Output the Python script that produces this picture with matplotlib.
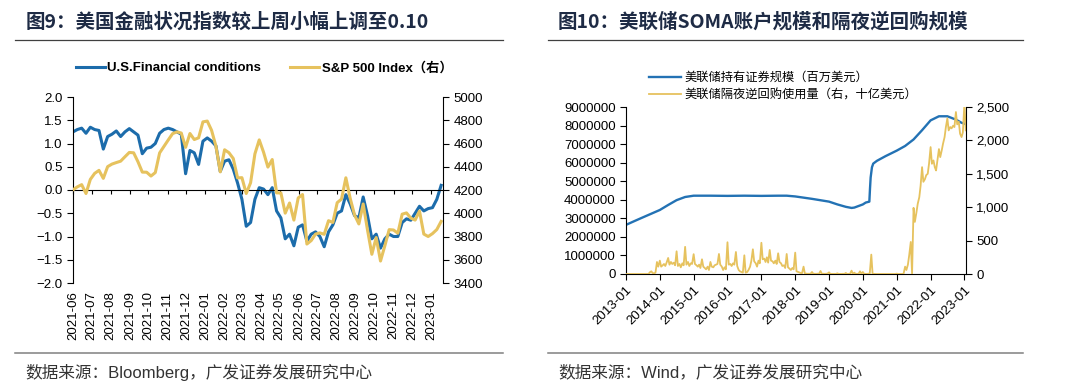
import numpy as np
import pandas as pd
import matplotlib
matplotlib.use("Agg")
import matplotlib.pyplot as plt
import matplotlib.dates as mdates
from matplotlib.lines import Line2D
from matplotlib.ticker import StrMethodFormatter

plt.rcParams["font.family"] = ["Liberation Sans", "Noto Sans CJK SC"]

#### Left chart data: weekly (Tuesdays) ####
fci_start = "2021-06-01"
fci = [1.25, 1.30, 1.33, 1.22, 1.35, 1.30, 1.28, 0.88, 1.15, 1.20, 1.27, 1.15, 1.25, 1.32,
       1.25, 1.18, 0.78, 0.90, 0.92, 1.00, 1.22, 1.30, 1.33, 1.30, 1.25, 1.20, 0.35, 0.85,
       0.80, 0.55, 1.05,
       1.12, 1.05, 0.95, 0.40, 0.62, 0.65, 0.45, 0.15, -0.20, -0.78, -0.70, -0.20, 0.05,
       0.02, -0.10, 0.05, -0.45, -0.60, -1.05, -0.95, -1.20, -0.80, -0.75, -1.10, -0.95,
       -0.90, -1.00, -1.22, -0.90, -0.75, -0.50, -0.45, -0.10, -0.30, -0.55, -0.60, -0.15,
       -0.55, -1.05, -0.95, -1.25, -1.05, -0.95, -1.00, -1.00, -0.70, -0.62, -0.65, -0.50,
       -0.35, -0.45, -0.40,
       -0.38, -0.20, 0.10]
spx = [4202, 4227, 4246, 4170, 4291, 4343, 4369, 4300, 4401, 4423, 4436, 4448, 4486, 4523,
       4520, 4443, 4354, 4353, 4320, 4350, 4519, 4575, 4631, 4685, 4700, 4690, 4567, 4686,
       4634, 4649, 4786,
       4793, 4713, 4577, 4356, 4546, 4521, 4471, 4304, 4306, 4170, 4262, 4511, 4631,
       4525, 4397, 4462, 4175, 4175, 4001, 4088, 3941, 4132, 4161, 3735, 3765,
       3821, 3831, 3819, 3936, 3921, 4091, 4122, 4305, 4128, 3986, 3908, 4080,
       3856, 3647, 3791, 3589, 3720, 3859, 3856, 3828, 3992, 4003, 3958, 3941,
       4019, 3821, 3800,
       3825, 3860, 3930]
week_dates = pd.date_range(fci_start, periods=len(fci), freq="7D")

#### Right chart data ####
soma_dates = pd.to_datetime([
    "2013-01-02", "2013-04-01", "2013-07-01", "2013-10-01", "2014-01-01", "2014-04-01",
    "2014-07-01", "2014-10-01", "2015-01-01", "2015-07-01", "2016-01-01", "2016-07-01",
    "2017-01-01", "2017-07-01", "2017-10-01", "2018-01-01", "2018-07-01", "2019-01-01",
    "2019-04-01", "2019-07-01", "2019-09-01", "2019-10-01", "2020-01-01", "2020-02-01",
    "2020-03-11", "2020-03-18", "2020-03-25", "2020-04-08", "2020-04-22", "2020-06-01",
    "2020-09-01", "2021-01-01", "2021-04-01", "2021-07-01", "2021-10-01", "2022-01-01",
    "2022-04-01", "2022-07-01", "2022-10-01", "2022-12-01", "2023-01-18"])
soma = [2650000, 2850000, 3050000, 3250000, 3450000, 3720000, 3980000, 4150000, 4220000,
        4220000, 4210000, 4220000, 4210000, 4220000, 4220000, 4180000, 4050000, 3900000,
        3750000, 3620000, 3560000, 3580000, 3750000, 3850000, 3900000, 4600000, 5200000,
        5750000, 5950000, 6100000, 6350000, 6650000, 6900000, 7250000, 7750000, 8280000,
        8500000, 8500000, 8320000, 8150000, 8080000]

# ON RRP usage, 1st and 15th of each month (billion USD)
rrp_2013 = [0, 0, 0, 0, 0, 0, 0, 0, 0, 0, 0, 0, 0, 0, 0, 0, 0, 25, 40, 15, 10, 20, 180, 110]
rrp_2014 = [200, 110, 130, 150, 120, 170, 240, 140, 180, 150, 170, 130, 340, 120, 150, 100,
            160, 130, 407, 140, 180, 120, 160, 150]
rrp_2015 = [297, 150, 130, 110, 140, 90, 220, 110, 90, 70, 110, 60, 180, 110, 100, 130,
            140, 150, 300, 140, 110, 60, 100, 70]
rrp_2016 = [475, 140, 150, 120, 160, 140, 330, 120, 60, 40, 30, 20, 280, 20, 30, 60,
            110, 200, 370, 190, 160, 110, 200, 160]
rrp_2017 = [468, 220, 230, 180, 250, 170, 360, 200, 190, 160, 200, 150, 310, 180, 160, 120,
            130, 90, 300, 100, 80, 60, 90, 70]
rrp_2018 = [320, 40, 30, 20, 15, 10, 110, 8, 5, 3, 4, 3, 30, 4, 3, 2, 5, 3, 45, 3, 4, 2, 3, 5]
rrp_2019 = [25, 1, 2, 1, 2, 1, 10, 1, 2, 1, 3, 1, 15, 1, 2, 1, 50, 3, 20, 2, 3, 1, 40, 5]
rrp_2020 = [30, 2, 1, 1, 5, 1, 290, 2, 1, 0, 0, 0, 1, 0, 0, 0, 0, 0, 1, 0, 0, 0, 0, 0]
rrp_2021 = [5, 0, 0, 0, 0, 2, 110, 60, 140, 280, 480, 0, 990, 780, 920, 1050,
            1150, 1320, 1600, 1380, 1420, 1480, 1500, 1650]
rrp_2022 = [1900, 1650, 1700, 1600, 1550, 1700, 1870, 1750, 1850, 1950, 2050, 2200,
            2330, 2150, 2200, 2180, 2220, 2200, 2425, 2240, 2280, 2100, 2050, 2120]
rrp_2023 = [2554, 2150]
rrp = (rrp_2013 + rrp_2014 + rrp_2015 + rrp_2016 + rrp_2017 + rrp_2018 + rrp_2019
       + rrp_2020 + rrp_2021 + rrp_2022 + rrp_2023)
rrp_dates = pd.date_range("2013-01-01", periods=len(rrp), freq="SMS")

blue = "#1C6CAB"
gold = "#E6C25E"
title_color = "#1E2B45"
cjk = ["Noto Sans CJK SC", "DejaVu Sans"]

W, H = 1080, 392
fig = plt.figure(figsize=(W / 100, H / 100), dpi=100)


def fx(px):
    return px / W


def fy(py):
    return 1 - py / H


#### Left chart ####
ax1 = fig.add_axes([fx(73), fy(283), fx(443 - 73), fy(97) - fy(283)])
l1, = ax1.plot(week_dates, fci, color=blue, lw=2.2)
ax1.set_ylim(-2, 2)
ax1.set_yticks(np.arange(-2, 2.01, 0.5))
ax1.yaxis.set_major_formatter(StrMethodFormatter("{x:.1f}"))
ax1.set_xlim(pd.Timestamp("2021-06-01"), pd.Timestamp("2023-01-20"))
ax1.set_xticks(pd.date_range("2021-06-01", "2023-01-01", freq="MS"))
ax1.xaxis.set_major_formatter(mdates.DateFormatter("%Y-%m"))
for s in ["top", "right"]:
    ax1.spines[s].set_visible(False)
ax1.spines["bottom"].set_position(("data", 0))
ax1.tick_params(axis="x", direction="out", length=3, pad=70, labelrotation=90,
                labelsize=9.5, color="black")
ax1.tick_params(axis="y", direction="out", length=4, labelsize=9.5)

ax2 = ax1.twinx()
l2, = ax2.plot(week_dates, spx, color=gold, lw=2.2)
ax2.set_ylim(3400, 5000)
ax2.set_yticks(np.arange(3400, 5001, 200))
for s in ["top", "left", "bottom"]:
    ax2.spines[s].set_visible(False)
ax2.tick_params(axis="y", direction="out", length=4, labelsize=9.5)

fig.legend([l1, l2], ["U.S.Financial conditions", "S&P 500 Index（右）"],
           loc="center", bbox_to_anchor=(fx(264), fy(68)), ncol=2, frameon=False,
           handlelength=2.2, columnspacing=2.2, handletextpad=0.2,
           prop={"weight": "bold", "size": 9.5})

#### Right chart ####
ax3 = fig.add_axes([fx(626), fy(274), fx(966 - 626), fy(107) - fy(274)])
l3, = ax3.plot(soma_dates, soma, color="#2372B4", lw=1.7)
ax3.set_ylim(0, 9000000)
ax3.set_yticks(np.arange(0, 9000001, 1000000))
ax3.yaxis.set_major_formatter(StrMethodFormatter("{x:.0f}"))
ax3.set_xlim(pd.Timestamp("2013-01-01"), pd.Timestamp("2023-01-18"))
ax3.set_xticks(pd.date_range("2013-01-01", "2023-01-01", freq="YS"))
ax3.xaxis.set_major_formatter(mdates.DateFormatter("%Y-%m"))
for s in ["top", "right"]:
    ax3.spines[s].set_visible(False)
ax3.tick_params(axis="x", direction="out", length=4, labelsize=9.5)
ax3.tick_params(axis="y", direction="out", length=4, labelsize=9.5)
for lab in ax3.get_xticklabels():
    lab.set_rotation(45)
    lab.set_ha("right")
    lab.set_rotation_mode("anchor")

ax4 = ax3.twinx()
l4, = ax4.plot(rrp_dates, rrp, color=gold, lw=1.3)
ax4.set_ylim(0, 2500)
ax4.set_yticks(np.arange(0, 2501, 500))
ax4.yaxis.set_major_formatter(StrMethodFormatter("{x:,.0f}"))
for s in ["top", "left", "bottom"]:
    ax4.spines[s].set_visible(False)
ax4.tick_params(axis="y", direction="out", length=4, labelsize=9.5)

fig.legend([l3, l4], ["美联储持有证券规模（百万美元）", "美联储隔夜逆回购使用量（右，十亿美元）"],
           loc="upper left", bbox_to_anchor=(fx(638), fy(60)), frameon=False,
           handlelength=2.6, handletextpad=0.3, labelspacing=0.35,
           prop={"family": cjk, "size": 8.8})

#### Titles, rules and sources ####
fig.text(fx(26), fy(22), "图9：美国金融状况指数较上周小幅上调至0.10", family=cjk,
         fontsize=14, weight="bold", color=title_color, va="center")
fig.text(fx(558), fy(22), "图10：美联储SOMA账户规模和隔夜逆回购规模", family=cjk,
         fontsize=14, weight="bold", color=title_color, va="center")
for x0, x1 in [(15, 503), (548, 1023)]:
    fig.add_artist(Line2D([fx(x0), fx(x1)], [fy(40), fy(40)], color="#404040", lw=0.9))
    fig.add_artist(Line2D([fx(x0), fx(x1)], [fy(353), fy(353)], color="#808080", lw=1.1))
fig.text(fx(25), fy(372), "数据来源：Bloomberg，广发证券发展研究中心", fontsize=12,
         color="#333333", va="center")
fig.text(fx(558), fy(372), "数据来源：Wind，广发证券发展研究中心", fontsize=12,
         color="#333333", va="center")

fig.savefig("out.png", dpi=100)
